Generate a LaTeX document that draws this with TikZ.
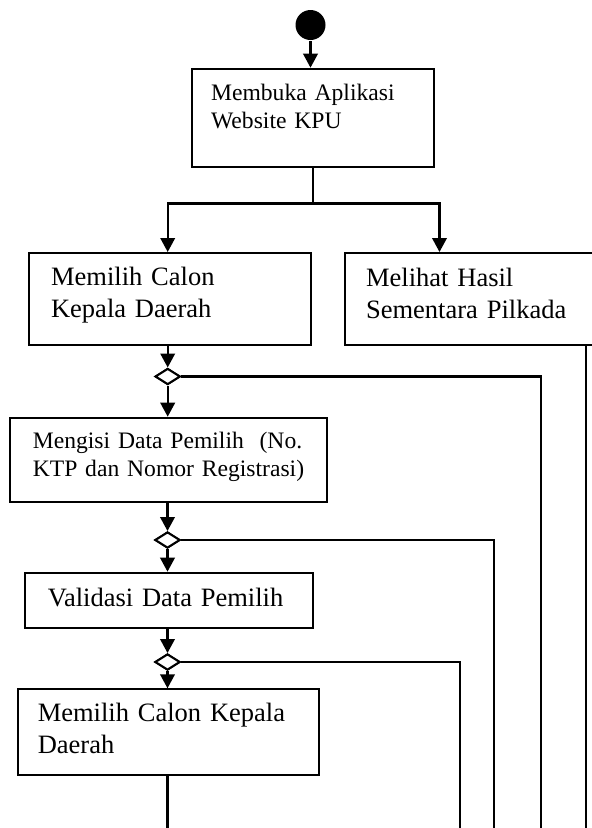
\documentclass[tikz,border=0pt]{standalone}
\usepackage{fontspec}
\setmainfont{Liberation Serif}
\usetikzlibrary{arrows.meta,shapes.geometric}
\begin{document}
\begin{tikzpicture}[x=1pt,y=-1pt,line width=2.2pt,line join=miter,
  box/.style={draw,line width=2pt,inner sep=0pt,anchor=north west},
  txt/.style={inner sep=0pt,anchor=base west,align=left,text width=340pt},
  big/.style={font=\fontsize{26.5}{31.7}\selectfont},
  small/.style={font=\fontsize{23.6}{28.5}\selectfont},
  arr/.style={-{Triangle[width=14.5pt,length=14pt]}},
  merge/.style={draw,diamond,fill=white,line width=2pt,inner sep=0pt,minimum width=25pt,minimum height=16pt}]
\useasboundingbox (0,0) rectangle (592,828);
% start
\node[circle,fill=black,minimum size=30pt,inner sep=0pt] (start) at (310.5,25) {};
% boxes
\node[box,minimum width=242.6pt,minimum height=98pt] (b1) at (190.7,67.7) {};
\node[box,minimum width=282pt,minimum height=91.8pt] (b2) at (28,252) {};
\node[box,minimum width=256pt,minimum height=91.8pt] (b3) at (344.3,252) {};
\node[box,minimum width=316.4pt,minimum height=84pt] (b4) at (9.3,416.7) {};
\node[box,minimum width=287.7pt,minimum height=55.6pt] (b5) at (24,571.7) {};
\node[box,minimum width=300.4pt,minimum height=85.7pt] (b6) at (17.3,688.3) {};
% texts
\node[txt,small] (t1) at (210,100) {Membuka Aplikasi\\Website KPU};
\node[txt,big] (t2) at (50,285.7) {Memilih Calon\\Kepala Daerah};
\node[txt,big] (t3) at (365,286.7) {Melihat Hasil\\Sementara Pilkada};
\node[txt,small] (t4) at (31.7,448) {Mengisi Data Pemilih~ (No.\\KTP dan Nomor Registrasi)};
\node[txt,big] (t5) at (46.7,606.7) {Validasi Data Pemilih};
\node[txt,big] (t6) at (36.7,721.7) {Memilih Calon Kepala\\Daerah};
% merge diamonds
\node[merge] (d1) at (167.7,376.5) {};
\node[merge] (d2) at (167.5,540) {};
\node[merge] (d3) at (167.5,662) {};
% coordinates
\coordinate (jl) at (167.7,203.5);
\coordinate (jr) at (439.5,203.5);
\coordinate (r1) at (541,376.5);
\coordinate (r2) at (494,540);
\coordinate (r3) at (460,662);
\coordinate (r4) at (586,344);
\coordinate (e1) at (541,832);
\coordinate (e2) at (494,832);
\coordinate (e3) at (460,832);
\coordinate (e4) at (586,832);
\coordinate (e5) at (167.5,832);
% connectors
\draw[arr] (start.south) -- (start.south |- b1.north);
\draw (b1.south) -- (b1.south |- jl);
\draw[line cap=rect] (jl) -- (jr);
\draw[arr] (jl) -- (jl |- b2.north);
\draw[arr] (jr) -- (jr |- b3.north);
\draw[arr] (d1 |- b2.south) -- (d1.north);
\draw[arr] (d1.south) -- (d1 |- b4.north);
\draw[arr] (d2 |- b4.south) -- (d2.north);
\draw[arr] (d2.south) -- (d2 |- b5.north);
\draw[arr] (d3 |- b5.south) -- (d3.north);
\draw[arr] (d3.south) -- (d3 |- b6.north);
\draw (e5 |- b6.south) -- (e5);
\draw (d1.east) -- (r1) -- (e1);
\draw (d2.east) -- (r2) -- (e2);
\draw (d3.east) -- (r3) -- (e3);
\draw (r4) -- (e4);
\node[merge] at (d1) {};
\node[merge] at (d2) {};
\node[merge] at (d3) {};
\end{tikzpicture}
\end{document}
